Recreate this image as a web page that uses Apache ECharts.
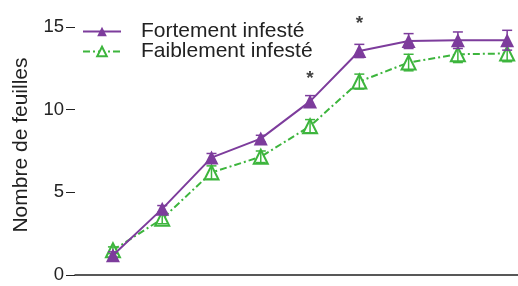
<!DOCTYPE html>
<html><head><meta charset="utf-8">
<script src="https://cdn.jsdelivr.net/npm/echarts@6/dist/echarts.min.js"></script>
<style>html,body{margin:0;padding:0;background:#fff}#c{width:518px;height:286px}</style>
</head><body><div id="c"></div>
<script>
var xPos = [1, 2, 3, 4, 5, 6, 7, 8, 9];
var seriesNames = ['Fortement infesté', 'Faiblement infesté'];
var fortValues = [1.2, 4.0, 7.1, 8.25, 10.5, 13.55, 14.15, 14.2, 14.2];
var fortErrors = [0.2, 0.2, 0.25, 0.2, 0.35, 0.4, 0.45, 0.5, 0.6];
var faibValues = [1.5, 3.4, 6.2, 7.15, 9.0, 11.7, 12.85, 13.35, 13.4];
var faibErrors = [0.2, 0.3, 0.4, 0.35, 0.4, 0.45, 0.5, 0.5, 0.5];
var starPos = [5, 6];
var starValues = [11.85, 15.2];
var yTicks = [0, 5, 10, 15];

var purple = '#7D3C9C', green = '#3DB53D';
function pairs(v){ return xPos.map(function(x,i){ return [x, v[i]]; }); }
function errData(v,e){ return xPos.map(function(x,i){ return [x, v[i]-e[i], v[i]+e[i]]; }); }
function errRender(color){
  return function(params, api){
    var x = api.value(0);
    var lo = api.coord([x, api.value(1)]);
    var hi = api.coord([x, api.value(2)]);
    var w = 5;
    var st = {stroke: color, lineWidth: 1.5};
    return {type:'group', children:[
      {type:'line', shape:{x1:lo[0],y1:lo[1],x2:hi[0],y2:hi[1]}, style:st},
      {type:'line', shape:{x1:lo[0]-w,y1:lo[1],x2:lo[0]+w,y2:lo[1]}, style:st},
      {type:'line', shape:{x1:hi[0]-w,y1:hi[1],x2:hi[0]+w,y2:hi[1]}, style:st}
    ]};
  };
}
var chart = echarts.init(document.getElementById('c'), null, {renderer:'canvas'});
var font = '"Liberation Sans", Arial, sans-serif';
chart.setOption({
  animation:false,
  textStyle:{fontFamily:font},
  grid:{left:75, right:0, top:27, bottom:11},
  legend:{
    orient:'vertical', left:77, top:16, itemWidth:38, itemHeight:12, itemGap:-1,
    textStyle:{fontSize:21, lineHeight:19, color:'#222', fontFamily:font, padding:[0,0,0,15]},
    data:seriesNames
  },
  xAxis:{type:'value', min:0.23, max:9.22, offset:9,
    axisLine:{show:true, lineStyle:{color:'#222', width:1.5}},
    axisTick:{show:false}, axisLabel:{show:false}, splitLine:{show:false}},
  yAxis:{type:'value', min:0, max:15, interval:5,
    name:'Nombre de feuilles', nameLocation:'middle', nameGap:43,
    nameTextStyle:{fontSize:21, color:'#222', fontFamily:font, padding:[0,0,0,12]},
    axisLine:{show:false},
    axisTick:{show:true, length:9, lineStyle:{color:'#222', width:1}},
    axisLabel:{fontSize:18.5, color:'#222', margin:11, fontFamily:font,
      customValues: yTicks},
    splitLine:{show:false}},
  series:[
    {name:seriesNames[0], type:'line', data:pairs(fortValues), symbol:'triangle', symbolSize:14,
      itemStyle:{color:purple}, lineStyle:{color:purple, width:2}, z:3},
    {name:seriesNames[1], type:'line', data:pairs(faibValues), symbol:'triangle', symbolSize:14,
      itemStyle:{color:'#fff', borderColor:green, borderWidth:2},
      lineStyle:{color:green, width:2, type:[7,3,2,3]}, z:2},
    {type:'custom', data:errData(fortValues, fortErrors), renderItem:errRender(purple), z:4, silent:true},
    {type:'custom', data:errData(faibValues, faibErrors), renderItem:errRender(green), z:3, silent:true},
    {type:'scatter', data:starPos.map(function(x,i){return [x, starValues[i]];}), symbolSize:1,
      itemStyle:{color:'rgba(0,0,0,0)'}, clip:false, silent:true,
      label:{show:true, position:'inside', formatter:'*', fontSize:19, fontWeight:'bold', color:'#111'}}
  ]
});
</script></body></html>
